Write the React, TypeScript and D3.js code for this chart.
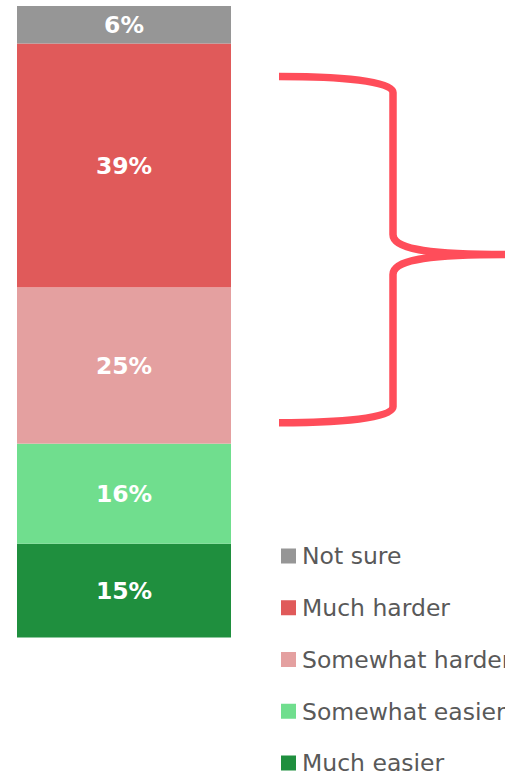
import React from "react";
import * as d3 from "d3";

const categories = ["Much easier", "Somewhat easier", "Somewhat harder", "Much harder", "Not sure"];
const values = [15, 16, 25, 39, 6];
const colors = ["#1f8f3e", "#70de8e", "#e4a0a0", "#e05a5a", "#969696"];
const legendOrder = ["Not sure", "Much harder", "Somewhat harder", "Somewhat easier", "Much easier"];

const W = 505;
const H = 775;

export default function App() {
  const total = d3.sum(values);
  const y = d3.scaleLinear().domain([0, total]).range([637.5, 6]);
  const x = d3.scaleBand().domain(["all"]).range([17, 231]).padding(0);
  const stacked = d3.stack<any>().keys(categories)([
    Object.fromEntries(categories.map((c, i) => [c, values[i]])),
  ]);
  const legendY = d3.scalePoint().domain(legendOrder).range([556, 763]);
  const colorOf = d3.scaleOrdinal<string, string>().domain(categories).range(colors);

  // brace spanning "Somewhat harder" + "Much harder"
  const top = y(stacked[3][0][1]) + 33;
  const bot = y(stacked[2][0][0]) - 21;
  const mid = top + 178;
  const xl = 279, xv = 393, xt = 505;
  const r = 16;
  const brace = d3.path();
  brace.moveTo(xl, top);
  brace.bezierCurveTo(xl + 60, top, xv, top + 4, xv, top + r);
  brace.lineTo(xv, mid - 20);
  brace.bezierCurveTo(xv, mid - 6, xt - 80, mid, xt, mid);
  brace.moveTo(xt, mid);
  brace.bezierCurveTo(xt - 80, mid, xv, mid + 6, xv, mid + 20);
  brace.lineTo(xv, bot - r);
  brace.bezierCurveTo(xv, bot - 4, xl + 60, bot, xl, bot);

  return (
    <svg width={W} height={H} style={{ position: "absolute", left: 0, top: 0 }}
      fontFamily="'DejaVu Sans', Verdana, sans-serif">
      {stacked.map((s, i) => {
        const d = s[0];
        const y0 = y(d[0]);
        const y1 = y(d[1]);
        return (
          <g key={categories[i]}>
            <rect x={x("all")} y={y1} width={x.bandwidth()} height={y0 - y1} fill={colors[i]} />
            <text x={x("all")! + x.bandwidth() / 2} y={(y0 + y1) / 2} dy="0.36em"
              textAnchor="middle" fill="#fff" fontWeight="bold" fontSize={23.5}>
              {values[i]}%
            </text>
          </g>
        );
      })}
      <path d={brace.toString()} fill="none" stroke="#ff4d5a" strokeWidth={7.5} strokeLinecap="butt" strokeLinejoin="round" />
      {legendOrder.map((c) => (
        <g key={c} transform={`translate(281,${legendY(c)})`}>
          <rect x={0} y={-7.5} width={15} height={15} fill={colorOf(c)} />
          <text x={21} y={0} dy="0.36em" fontSize={23.5} fill="#595959">{c}</text>
        </g>
      ))}
    </svg>
  );
}
